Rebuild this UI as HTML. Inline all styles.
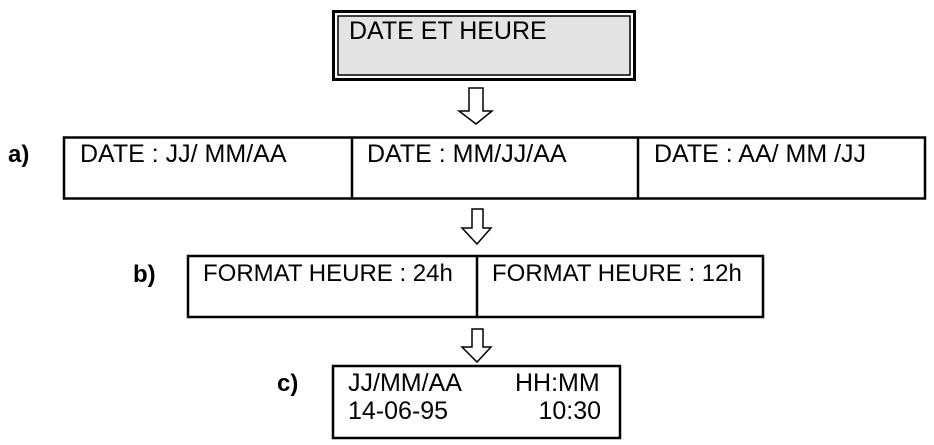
<!DOCTYPE html>
<html><head><meta charset="utf-8"><style>
html,body{margin:0;padding:0;background:#fff;}
svg{display:block;}
text{font-family:"Liberation Sans",Arial,sans-serif;font-size:25px;fill:#000;}
.b{font-weight:bold;font-size:24px;}
.f{font-size:24px;}
</style></head><body>
<svg width="934" height="445" viewBox="0 0 934 445" xmlns="http://www.w3.org/2000/svg">
<rect x="333.5" y="11.5" width="301" height="68" fill="#fff" stroke="#000" stroke-width="3"/>
<rect x="338" y="16" width="292" height="59" fill="#e4e4e4" stroke="#000" stroke-width="1.5"/>
<text x="349" y="39">DATE ET HEURE</text>

<path d="M469 88 H483 V111 H492 L476 124 L459 111 H469 Z" fill="#fff" stroke="#000" stroke-width="1.5"/>

<text class="b" x="8" y="162">a)</text>
<rect x="64" y="137.5" width="861" height="61" fill="none" stroke="#000" stroke-width="2.5"/>
<line x1="352" y1="137" x2="352" y2="199" stroke="#000" stroke-width="2.5"/>
<line x1="638" y1="137" x2="638" y2="199" stroke="#000" stroke-width="2.5"/>
<text x="80" y="162">DATE : JJ/ MM/AA</text>
<text x="367" y="162">DATE : MM/JJ/AA</text>
<text x="654" y="162">DATE : AA/ MM /JJ</text>

<path d="M472 209 H483 V228 H491 L477 244 L462 228 H472 Z" fill="#fff" stroke="#000" stroke-width="1.5"/>

<text class="b" x="133" y="282">b)</text>
<rect x="188" y="256" width="575" height="61" fill="none" stroke="#000" stroke-width="2.5"/>
<line x1="477" y1="256" x2="477" y2="317" stroke="#000" stroke-width="2.5"/>
<text class="f" x="203" y="281">FORMAT HEURE : 24h</text>
<text class="f" x="492" y="281">FORMAT HEURE : 12h</text>

<path d="M472 329 H483 V347 H491 L477 362 L462 347 H472 Z" fill="#fff" stroke="#000" stroke-width="1.5"/>

<text class="b" x="277" y="391">c)</text>
<rect x="333" y="366" width="287" height="72" fill="none" stroke="#000" stroke-width="2.5"/>
<text x="348" y="391">JJ/MM/AA</text>
<text x="515" y="391">HH:MM</text>
<text x="348" y="419">14-06-95</text>
<text x="601" y="419" text-anchor="end">10:30</text>
</svg>
</body></html>
